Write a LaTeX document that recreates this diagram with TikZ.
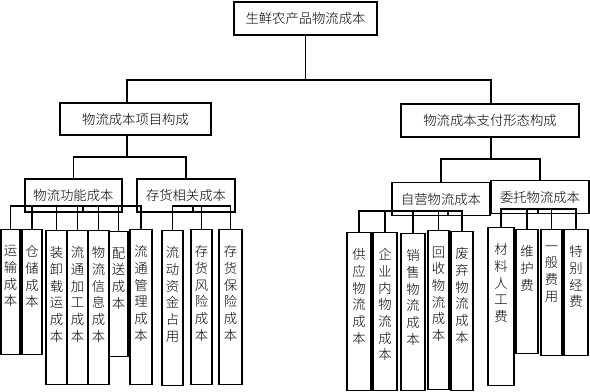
\documentclass[tikz,border=0pt]{standalone}
\usepackage{fontspec}
\newfontfamily\cjk{Noto Sans CJK SC}[UprightFont={* Light}]
\newdimen\pxu \pxu=0.75pt
% vertical text column, top aligned
\newcommand\vcol[2]{\parbox[c][#1\pxu][t]{1em}{\centering\vspace*{12pt}#2}}

\tikzset{every picture/.style={line width=1pt}}
\tikzset{
  hbox/.style={draw, inner sep=0pt, minimum height=24.75pt},
  col/.style={draw, anchor=north, inner sep=0pt, minimum width=#1*0.75pt},
}

\begin{document}
\begin{tikzpicture}[x=0.75pt,y=0.75pt,yscale=-1,xscale=1,font=\cjk\fontsize{10pt}{12.5pt}\selectfont]
\useasboundingbox (0,0) rectangle (590,392);

% Root
\node[hbox, minimum width=107.25pt] (root) at (305.5,18.5) {生鲜农产品物流成本};

% Level 2
\node[hbox, minimum width=113.25pt, minimum height=24pt] (pa) at (135.5,119) {物流成本项目构成};
\node[hbox, minimum width=133.5pt] (pb) at (490,120.5) {物流成本支付形态构成};

% Level 3
\node[hbox, minimum width=72.75pt] (fa) at (73.5,195.5) {物流功能成本};
\node[hbox, minimum width=73.5pt] (fb) at (186,195.5) {存货相关成本};
\node[hbox, minimum width=73.5pt] (fc) at (441,199) {自营物流成本};
\node[hbox, minimum width=73.5pt] (fd) at (540,197) {委托物流成本};

% Level 4, functions
\node[col=19] (c1) at (10.5,229) {\vcol{125}{运\\输\\成\\本}};
\node[col=20] (c2) at (32,229) {\vcol{125}{仓\\储\\成\\本}};
\node[col=21] (c3) at (56.5,230) {\vcol{154}{装\\卸\\载\\运\\成\\本}};
\node[col=21] (c4) at (77.5,230) {\vcol{154}{流\\通\\加\\工\\成\\本}};
\node[col=21] (c5) at (98.5,230) {\vcol{154}{物\\流\\信\\息\\成\\本}};
\node[col=19] (c6) at (118.5,231) {\vcol{125}{配\\送\\成\\本}};
\node[col=22] (c7) at (141,229) {\vcol{155}{流\\通\\管\\理\\成\\本}};

% Level 4, inventory
\node[col=21] (s1) at (172.5,230) {\vcol{155}{流\\动\\资\\金\\占\\用}};
\node[col=21] (s2) at (201.5,229) {\vcol{155}{存\\货\\风\\险\\成\\本}};
\node[col=23] (s3) at (230.5,229) {\vcol{155}{存\\货\\保\\险\\成\\本}};

% Level 4, self-operated
\node[col=24] (z1) at (359,232) {\vcol{158}{供\\应\\物\\流\\成\\本}};
\node[col=24] (z2) at (385,232) {\vcol{158}{企\\业\\内\\物\\流\\成\\本}};
\node[col=24] (z3) at (413,233) {\vcol{157}{销\\售\\物\\流\\成\\本}};
\node[col=21] (z4) at (438.5,230) {\vcol{159}{回\\收\\物\\流\\成\\本}};
\node[col=22] (z5) at (462,231) {\vcol{159}{废\\弃\\物\\流\\成\\本}};

% Level 4, outsourced
\node[col=26] (w1) at (501,227) {\vcol{158}{材\\料\\人\\工\\费}};
\node[col=22] (w2) at (527,229) {\vcol{124}{维\\护\\费}};
\node[col=21] (w3) at (551.5,229) {\vcol{126}{一\\般\\费\\用}};
\node[col=24] (w4) at (576,229) {\vcol{126}{特\\别\\经\\费}};

% Bus points
\coordinate (b0) at (305.5,80);
\coordinate (b1) at (127,157);
\coordinate (b2) at (491,159);
\coordinate (bf) at (83,206);
\coordinate (bs) at (193,206);
\coordinate (bz) at (448,211);
\coordinate (bw) at (538,209);

% Connectors
\draw (root.south) -- (b0) -| (b1 |- pa.north);
\draw (b0) -| (b2 |- pb.north);
\draw (pa.south -| b1) -- (b1) -| (fa.north);
\draw (b1) -| (fb.north);
\draw (pb.south -| b2) -- (b2) -| (fc.north);
\draw (b2) -| (fd.north);
\draw (fa.south -| bf) -- (bf);
\foreach \n in {c1,c2,c3,c4,c5,c6,c7} \draw (bf) -| (\n.north);
\draw (fb.south -| bs) -- (bs);
\foreach \n in {s1,s2,s3} \draw (bs) -| (\n.north);
\draw (fc.south -| bz) -- (bz);
\foreach \n in {z1,z2,z3,z4,z5} \draw (bz) -| (\n.north);
\draw (fd.south -| bw) -- (bw);
\foreach \n in {w1,w2,w3,w4} \draw (bw) -| (\n.north);
\end{tikzpicture}
\end{document}
